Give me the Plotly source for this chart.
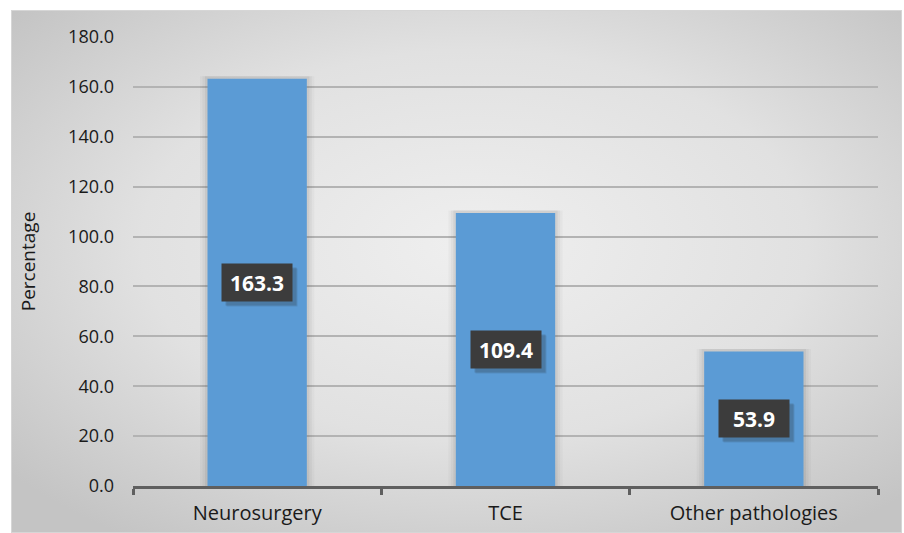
import base64
import plotly.graph_objects as go

# Data
categories = ["Neurosurgery", "TCE", "Other pathologies"]
values = [163.3, 109.4, 53.9]
y_ticks = [0, 20, 40, 60, 80, 100, 120, 140, 160, 180]
y_tick_labels = [f"{v:.1f}" for v in y_ticks]

W, H = 904, 533
ML, MR, MT, MB = 133, 26, 37, 47
plot_w = W - ML - MR
plot_h = H - MT - MB

# Soft grey gradient panel behind the chart
svg = (
    '<svg xmlns="http://www.w3.org/2000/svg" width="900" height="530" preserveAspectRatio="none">'
    '<defs><radialGradient id="g" cx="52%" cy="45%" r="68%">'
    '<stop offset="0%" stop-color="#efefef"/>'
    '<stop offset="55%" stop-color="#e1e1e1"/>'
    '<stop offset="100%" stop-color="#c4c4c4"/>'
    '</radialGradient></defs>'
    '<rect width="900" height="530" fill="url(#g)"/>'
    '<rect x="0.5" y="0.5" width="899" height="529" fill="none" stroke="#d6d6d6" stroke-width="1"/>'
    '</svg>'
)
bg_src = "data:image/svg+xml;base64," + base64.b64encode(svg.encode()).decode()

panel_left, panel_top, panel_right, panel_bottom = 11, 10, 902, 533
px0 = (panel_left - ML) / plot_w
px1 = (panel_right - ML) / plot_w
py_top = (H - MB - panel_top) / plot_h
py_bot = (H - MB - panel_bottom) / plot_h

fig = go.Figure()

# soft glow behind the bars
for w, a in [(0.46, 0.035), (0.44, 0.05), (0.42, 0.07)]:
    fig.add_trace(go.Bar(
        x=categories, y=[v + 1.0 for v in values], width=w,
        marker=dict(color=f"rgba(60,60,60,{a})", line=dict(width=0)),
        hoverinfo="skip", showlegend=False,
    ))
fig.add_trace(go.Bar(
    x=categories, y=values, width=0.4,
    marker=dict(color="#5b9bd5", line=dict(width=0)),
    showlegend=False,
))

# value labels in dark boxes, centred on each bar
BOX_W, BOX_H, PAD = 58, 25, 6
for c, v in zip(categories, values):
    for dx, dy, a in [(5, -5, 0.12), (4, -4, 0.18)]:
        fig.add_annotation(
            x=c, y=v / 2, text=" ", showarrow=False,
            xshift=dx, yshift=dy, width=BOX_W, height=BOX_H,
            bgcolor=f"rgba(40,40,40,{a})", borderpad=PAD,
        )
    fig.add_annotation(
        x=c, y=v / 2, text=f"<b>{v:.1f}</b>", showarrow=False,
        width=BOX_W, height=BOX_H,
        font=dict(family="Open Sans", size=21, color="white"),
        bgcolor="#3c3c3c", borderpad=PAD,
    )

fig.add_layout_image(dict(
    source=bg_src, xref="paper", yref="paper",
    x=px0, y=py_top, sizex=px1 - px0, sizey=py_top - py_bot,
    xanchor="left", yanchor="top", sizing="stretch", layer="below",
))

fig.update_layout(
    width=W, height=H,
    margin=dict(l=ML, r=MR, t=MT, b=MB),
    paper_bgcolor="white",
    plot_bgcolor="rgba(0,0,0,0)",
    barmode="overlay",
    font=dict(family="Open Sans", color="#222222"),
    xaxis=dict(
        type="category",
        automargin=False,
        showline=True, linecolor="#5f5f5f", linewidth=3,
        ticks="outside", tickson="boundaries", ticklen=6, tickwidth=3, tickcolor="#5f5f5f",
        tickfont=dict(size=20, color="#1a1a1a"),
        ticklabelstandoff=7,
        showgrid=False,
    ),
    yaxis=dict(
        range=[0, 180],
        automargin=False,
        tickvals=y_ticks, ticktext=y_tick_labels,
        tickfont=dict(size=18, color="#1a1a1a"),
        showgrid=True, gridcolor="#b3b3b3", gridwidth=1.5,
        zeroline=False, showline=False, ticks="",
        ticklabelstandoff=18,
        title=dict(text="Percentage", font=dict(size=19, color="#1a1a1a"), standoff=27),
    ),
)

fig.write_html("out.html")
